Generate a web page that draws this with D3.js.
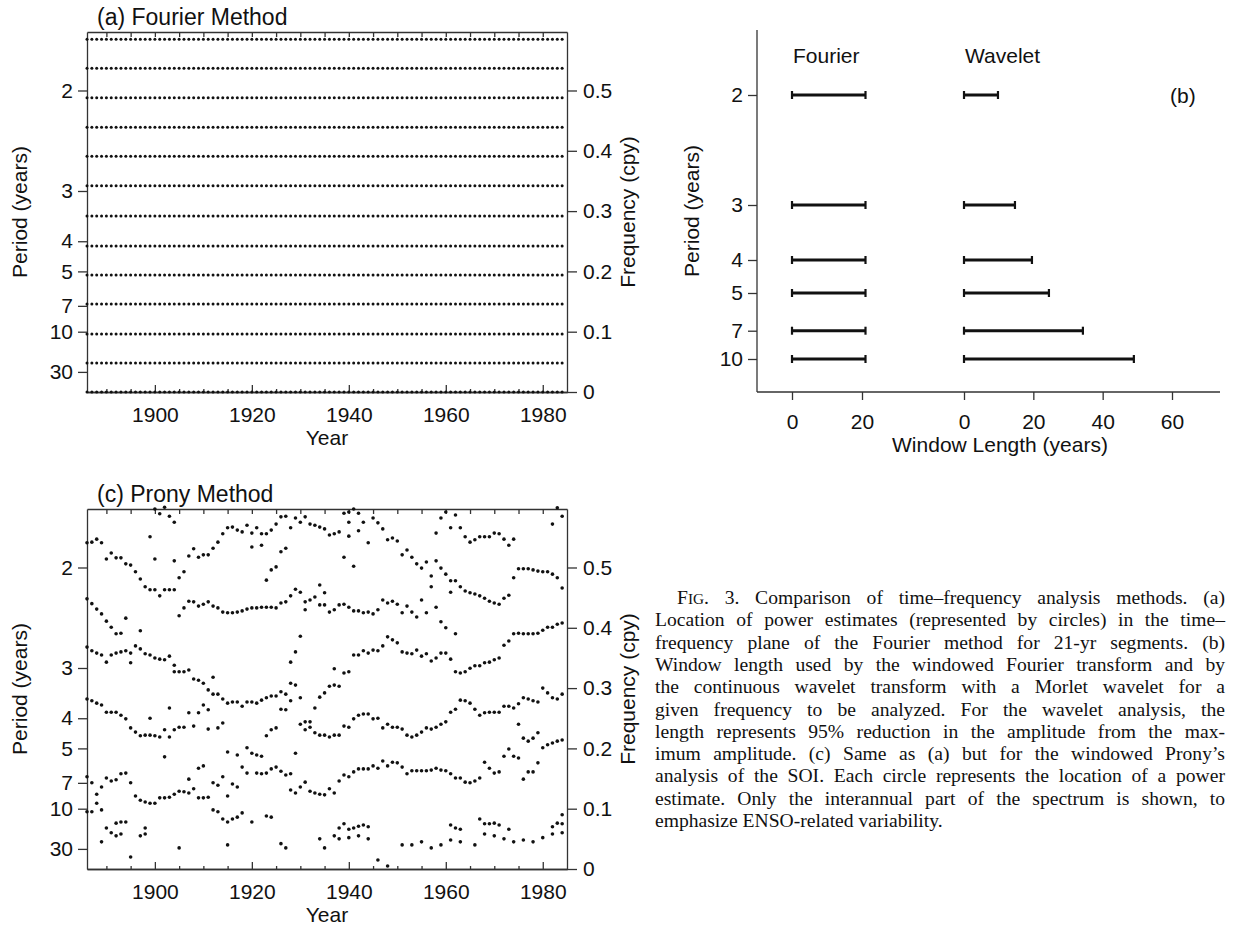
<!DOCTYPE html>
<html>
<head>
<meta charset="utf-8">
<script src="https://cdn.jsdelivr.net/npm/d3@7"></script>
<style>
  body { margin: 0; background: #fff; }
  svg { display: block; }
</style>
</head>
<body>
<script>
// ---- data ----
const years = d3.range(1886, 1985)
const fourierFreqs = [0, 0.048, 0.096, 0.146, 0.194, 0.242, 0.292, 0.342, 0.391, 0.439, 0.488, 0.537, 0.585]
const periodTicks = [2, 3, 4, 5, 7, 10, 30]
const freqTicks = [0, 0.1, 0.2, 0.3, 0.4, 0.5]
const yearTicks = [1900, 1920, 1940, 1960, 1980]
const yearMinor = d3.range(1890, 1985, 5)

const windowPeriods = [2, 3, 4, 5, 7, 10]
const fourierWindow = [21, 21, 21, 21, 21, 21]
const waveletWindow = [9.8, 14.7, 19.6, 24.5, 34.3, 49]
const fourierLenTicks = [0, 20]
const waveletLenTicks = [0, 20, 40, 60]

// Prony estimates, [year, frequency (cpy)]
const pronyTop = [[1886,.541],[1887,.542],[1888,.547],[1889,.541],[1890,.514],[1891,.524],[1892,.516],[1893,.516],
  [1894,.506],[1895,.504],[1896,.493],[1897,.481],[1898,.468],[1899,.463],[1900,.463],[1901,.453],[1902,.463],
  [1903,.463],[1904,.463],[1905,.483],[1906,.493],[1907,.519],[1908,.531],[1909,.517],[1910,.521],[1911,.521],
  [1912,.532],[1913,.542],[1914,.556],[1915,.566],[1916,.567],[1917,.562],[1918,.559],[1919,.570],[1920,.557],
  [1921,.566],[1922,.556],[1923,.556],[1924,.562],[1925,.572],[1926,.584],[1927,.585],[1928,.566],[1929,.582],
  [1930,.575],[1931,.584],[1932,.572],[1933,.570],[1934,.567],[1935,.564],[1936,.554],[1937,.556],[1938,.559],
  [1899,.551],[1900,.514],[1904,.511],[1900,.597],[1901,.589],[1902,.600],[1903,.585],[1904,.575],
  [1920,.534],[1922,.537],[1923,.479],[1924,.496],[1925,.501],[1926,.526],[1927,.532],
  [1939,.590],[1940,.592],[1941,.597],[1942,.590],[1940,.575],[1940,.552],[1942,.561],[1943,.575],[1944,.541],
  [1945,.582],[1946,.574],[1947,.564],[1948,.546],[1949,.549],[1950,.544],[1939,.517],[1941,.502],
  [1951,.521],[1952,.529],[1953,.517],[1954,.506],[1955,.499],[1956,.509],[1957,.486],[1958,.511],[1959,.499],
  [1960,.489],[1961,.478],[1962,.478],[1963,.468],[1964,.461],[1965,.458],[1966,.456],[1967,.453],[1968,.449],
  [1969,.444],[1970,.441],[1971,.439],[1972,.449],[1973,.454],[1957,.468],[1961,.459],
  [1958,.557],[1959,.582],[1960,.592],[1961,.566],[1962,.587],[1963,.566],[1964,.551],[1965,.542],[1966,.546],
  [1967,.551],[1968,.551],[1969,.551],[1970,.557],[1971,.556],[1972,.547],[1973,.537],[1974,.547],
  [1974,.483],[1975,.498],[1976,.498],[1977,.498],[1978,.496],[1979,.494],[1980,.493],[1981,.493],[1982,.489],
  [1983,.483],[1984,.466],[1982,.572],[1983,.599],[1984,.585]]

const pronyBand2 = [[1886,.448],[1887,.440],[1888,.431],[1889,.423],[1890,.411],[1891,.401],[1892,.390],[1893,.391],
  [1894,.416],[1897,.395],[1905,.420],[1906,.433],[1907,.444],[1908,.443],[1909,.436],[1910,.439],[1911,.443],
  [1912,.436],[1913,.433],[1914,.426],[1915,.425],[1916,.425],[1917,.426],[1918,.428],[1919,.431],[1920,.433],
  [1921,.433],[1922,.434],[1923,.434],[1924,.434],[1925,.433],[1926,.441],[1927,.443],[1928,.453],[1929,.464],
  [1930,.459],[1931,.443],[1931,.430],[1932,.446],[1933,.451],[1934,.471],[1934,.438],[1935,.458],[1935,.438],
  [1936,.426],[1937,.430],[1938,.438],[1939,.439],[1940,.434],[1941,.428],[1942,.428],[1943,.425],[1944,.426],
  [1945,.423],[1946,.430],[1947,.446],[1948,.441],[1949,.444],[1950,.439],[1951,.425],[1952,.436],[1953,.426],
  [1954,.418],[1955,.446],[1956,.425],[1958,.434],[1959,.410],[1960,.400],[1962,.390]]

const pronyBand3 = [[1886,.368],[1887,.362],[1888,.358],[1889,.355],[1890,.343],[1891,.355],[1892,.358],[1893,.360],
  [1894,.362],[1895,.358],[1895,.342],[1896,.370],[1897,.365],[1898,.357],[1899,.355],[1900,.350],[1901,.348],
  [1902,.347],[1903,.353],[1904,.338],[1904,.327],[1905,.327],[1906,.327],[1907,.330],[1908,.315],[1909,.313],
  [1910,.308],[1912,.318],[1911,.297],[1912,.290],[1913,.290],[1914,.282],[1915,.275],[1916,.277],[1917,.277],
  [1918,.270],[1919,.277],[1920,.277],[1921,.275],[1922,.280],[1923,.284],[1924,.287],[1925,.287],[1926,.294],
  [1927,.290],[1928,.308],[1929,.305],[1928,.343],[1929,.360],[1930,.386],[1930,.284],
  [1933,.267],[1934,.285],[1935,.292],[1936,.303],[1937,.305],[1938,.303],[1937,.332],[1939,.325],[1940,.327],
  [1941,.355],[1942,.355],[1943,.362],[1944,.358],[1945,.363],[1946,.362],[1947,.370],[1948,.385],[1949,.380],
  [1950,.375],[1951,.360],[1952,.358],[1953,.357],[1954,.363],[1955,.353],[1956,.357],[1957,.345],[1958,.350],
  [1959,.358],[1960,.358],[1961,.348],[1962,.327],[1963,.325],[1964,.327],[1965,.333],[1966,.337],[1967,.337],
  [1968,.342],[1969,.343],[1970,.347],[1971,.350],[1972,.371],[1973,.378],[1974,.390],[1975,.391],[1976,.390],
  [1977,.390],[1978,.390],[1979,.391],[1980,.396],[1981,.401],[1982,.401],[1983,.406],[1984,.408]]

const pronyBand4 = [[1886,.282],[1887,.279],[1888,.275],[1889,.272],[1890,.260],[1891,.260],[1892,.260],[1893,.255],
  [1894,.249],[1895,.234],[1896,.227],[1897,.221],[1898,.222],[1899,.222],[1900,.221],[1901,.219],[1902,.231],
  [1903,.219],[1904,.231],[1905,.235],[1906,.235],[1907,.259],[1908,.237],[1909,.259],[1910,.272],[1911,.264],
  [1911,.232],[1913,.234],[1914,.242],[1899,.250],[1903,.267],[1902,.186],
  [1923,.221],[1924,.231],[1925,.234],[1926,.265],[1927,.264],[1928,.279],
  [1930,.240],[1931,.231],[1932,.235],[1932,.244],[1931,.244],[1933,.226],[1934,.222],[1935,.222],[1936,.219],
  [1937,.222],[1938,.222],[1939,.237],[1940,.235],[1941,.249],[1942,.255],[1943,.257],[1944,.257],[1945,.249],
  [1946,.250],[1947,.234],[1948,.240],[1949,.235],[1950,.235],[1951,.232],[1952,.222],[1953,.219],[1954,.222],
  [1955,.227],[1956,.234],[1957,.232],[1958,.235],[1959,.240],[1960,.244],[1961,.260],[1962,.265],[1963,.280],
  [1964,.279],[1965,.275],[1966,.265],[1967,.255],[1968,.259],[1969,.260],[1970,.260],[1971,.260],[1972,.270],
  [1973,.270],[1974,.267],[1975,.274],[1976,.284],[1977,.282],[1978,.279],[1979,.277],[1980,.300],[1981,.292],
  [1982,.284],[1983,.282],[1984,.290]]

const pronyBand5 = [[1886,.153],[1887,.143],[1888,.124],[1889,.136],[1890,.151],[1891,.146],[1892,.148],[1893,.158],
  [1894,.159],[1895,.143],[1896,.121],[1897,.114],[1898,.111],[1899,.109],[1900,.109],[1901,.118],[1902,.118],
  [1903,.119],[1904,.124],[1905,.129],[1906,.128],[1907,.126],[1907,.149],[1908,.133],[1909,.118],[1910,.118],
  [1911,.119],[1909,.167],[1910,.171],[1912,.143],[1913,.139],[1914,.153],[1915,.121],[1915,.194],[1916,.141],
  [1917,.136],[1917,.189],[1918,.169],[1919,.201],[1919,.159],[1920,.192],[1921,.189],[1922,.187],[1921,.159],
  [1922,.158],[1923,.159],[1924,.166],[1925,.169],[1926,.162],[1927,.156],[1928,.158],[1929,.192],[1928,.131],
  [1929,.126],[1930,.136],[1931,.144],[1932,.129],[1933,.126],[1934,.124],[1935,.123],[1936,.133],[1937,.126],
  [1938,.146],[1939,.156],[1940,.153],[1941,.161],[1942,.166],[1943,.166],[1944,.166],[1945,.171],[1946,.167],
  [1947,.179],[1948,.171],[1949,.177],[1950,.176],[1951,.169],[1952,.158],[1953,.163],[1954,.163],[1955,.163],
  [1956,.163],[1957,.164],[1958,.167],[1959,.164],[1960,.163],[1961,.158],[1962,.151],[1963,.151],[1964,.144],
  [1965,.143],[1966,.146],[1967,.151],[1968,.177],[1969,.167],[1970,.159],[1971,.161],[1972,.187],[1973,.199],
  [1974,.187],[1975,.184],[1975,.240],[1976,.149],[1976,.217],[1977,.212],[1978,.217],[1979,.226],[1979,.176],
  [1978,.161],[1977,.161],[1980,.201],[1981,.206],[1982,.209],[1983,.212],[1984,.214]]

const pronyBand6 = [[1886,.095],[1887,.095],[1888,.109],[1889,.098],[1890,.068],[1892,.076],[1893,.078],[1894,.078],
  [1898,.068],[1912,.098],[1913,.095],[1914,.083],[1915,.078],[1916,.083],[1917,.086],[1918,.093],[1920,.078],
  [1923,.088],[1924,.086],[1938,.068],[1939,.075],[1940,.066],[1941,.068],[1942,.071],[1943,.073],[1944,.070],
  [1961,.073],[1962,.068],[1963,.066],[1967,.083],[1968,.075],[1969,.075],[1970,.076],[1971,.073],[1973,.066],
  [1982,.070],[1983,.076],[1984,.075],[1984,.090]]

const pronyBand7 = [[1889,.045],[1891,.060],[1892,.055],[1893,.058],[1895,.020],[1897,.055],[1898,.058],[1905,.035],
  [1915,.040],[1926,.042],[1927,.035],[1934,.050],[1935,.035],[1937,.055],[1938,.050],[1940,.052],[1942,.055],
  [1944,.050],[1946,.015],[1948,.005],[1951,.040],[1953,.040],[1955,.045],[1957,.035],[1959,.040],[1961,.048],
  [1963,.045],[1966,.040],[1968,.058],[1970,.055],[1972,.050],[1974,.045],[1976,.048],[1978,.045],[1980,.052],
  [1982,.058],[1984,.060]]

const captionLines = [
  "Comparison of time\u2013frequency analysis methods. (a)",
  "Location of power estimates (represented by circles) in the time\u2013",
  "frequency plane of the Fourier method for 21-yr segments. (b)",
  "Window length used by the windowed Fourier transform and by",
  "the continuous wavelet transform with a Morlet wavelet for a",
  "given frequency to be analyzed. For the wavelet analysis, the",
  "length represents 95% reduction in the amplitude from the max-",
  "imum amplitude. (c) Same as (a) but for the windowed Prony\u2019s",
  "analysis of the SOI. Each circle represents the location of a power",
  "estimate. Only the interannual part of the spectrum is shown, to",
  "emphasize ENSO-related variability."
]

// ---- drawing ----
const W = 1243, H = 926
const SANS = "'Liberation Sans', Arial, Helvetica, sans-serif"
const SERIF = "'Liberation Serif', 'Times New Roman', serif"
const INK = "#111"
const AXIS = "#333"

const svg = d3.select("body").append("svg").attr("width", W).attr("height", H)

function styleAxis(g, fs) {
  g.attr("font-family", SANS).attr("font-size", fs || 21)
  g.selectAll("path, line").attr("stroke", AXIS).attr("stroke-width", 1.3)
  g.selectAll("text").attr("fill", INK)
}

function timePanel(top, title, pointSets, r) {
  const left = 87, right = 567, bottom = top + 360
  const x = d3.scaleLinear().domain([1886, 1985]).range([left, right])
  const y = d3.scaleLinear().domain([0, 0.597]).range([bottom, top])
  const g = svg.append("g")

  // frame and ticks
  g.append("g").attr("transform", `translate(0,${top})`)
    .call(d3.axisTop(x).tickValues(yearMinor).tickSize(-5).tickSizeOuter(0).tickFormat(""))
    .call(styleAxis)
  g.append("g").attr("transform", `translate(0,${bottom})`)
    .call(d3.axisBottom(x).tickValues(yearMinor.filter(v => !yearTicks.includes(v))).tickSize(-3).tickSizeOuter(0).tickFormat(""))
    .call(styleAxis)
  g.append("g").attr("transform", `translate(0,${bottom})`)
    .call(d3.axisBottom(x).tickValues(yearTicks).tickSize(-7).tickSizeOuter(0).tickPadding(15).tickFormat(d3.format("d")))
    .call(styleAxis)
  g.append("g").attr("transform", `translate(${left},0)`)
    .call(d3.axisLeft(y).tickValues(periodTicks.map(p => 1 / p)).tickSize(9).tickSizeOuter(0).tickPadding(5)
      .tickFormat(f => d3.format("d")(Math.round(1 / f))))
    .call(styleAxis)
  g.append("g").attr("transform", `translate(${right},0)`)
    .call(d3.axisRight(y).tickValues(freqTicks).tickSize(10).tickSizeOuter(0).tickPadding(6).tickFormat(d3.format(".1~f")))
    .call(styleAxis)

  // labels
  g.append("text").attr("x", 97).attr("y", top - 7).attr("font-family", SANS).attr("font-size", 23).attr("fill", INK).text(title)
  g.append("text").attr("x", (left + right) / 2).attr("y", bottom + 53).attr("text-anchor", "middle")
    .attr("font-family", SANS).attr("font-size", 21).attr("fill", INK).text("Year")
  g.append("text").attr("transform", `translate(27,${(top + bottom) / 2}) rotate(-90)`).attr("text-anchor", "middle")
    .attr("font-family", SANS).attr("font-size", 21).attr("fill", INK).text("Period (years)")
  g.append("text").attr("transform", `translate(635,${(top + bottom) / 2}) rotate(-90)`).attr("text-anchor", "middle")
    .attr("font-family", SANS).attr("font-size", 21).attr("fill", INK).text("Frequency (cpy)")

  // dots
  pointSets.forEach(pts => {
    g.append("g").selectAll("circle").data(pts).join("circle")
      .attr("cx", d => x(d[0])).attr("cy", d => y(d[1])).attr("r", r).attr("fill", INK)
  })
}

// (a) Fourier grid of estimates
const fourierGrid = fourierFreqs.flatMap(f => years.map(yr => [yr, f]))
timePanel(32, "(a) Fourier Method", [fourierGrid], 1.5)

// (c) Prony estimates
timePanel(509, "(c) Prony Method",
  [pronyTop, pronyBand2, pronyBand3, pronyBand4, pronyBand5, pronyBand6, pronyBand7], 1.8)

// (b) window lengths
;(function () {
  const left = 757, right = 1220, top = 30, bottom = 392
  const y = d3.scaleLinear().domain([0.05, 0.6]).range([bottom, 29])
  const xF = d3.scaleLinear().domain([0, 20]).range([792, 862])
  const xW = d3.scaleLinear().domain([0, 60]).range([964, 1172])
  const g = svg.append("g")

  g.append("g").attr("transform", `translate(${left},0)`)
    .call(d3.axisLeft(y).tickValues(windowPeriods.map(p => 1 / p)).tickSize(9).tickSizeOuter(0).tickPadding(5)
      .tickFormat(f => d3.format("d")(Math.round(1 / f))))
    .call(styleAxis)
  g.select("path.domain").attr("d", `M0,${top}V${bottom}`)
  g.append("line").attr("x1", left).attr("x2", right).attr("y1", bottom).attr("y2", bottom)
    .attr("stroke", AXIS).attr("stroke-width", 1.3)
  ;[[xF, fourierLenTicks], [xW, waveletLenTicks]].forEach(([sc, tv]) => {
    const a = g.append("g").attr("transform", `translate(0,${bottom})`)
      .call(d3.axisBottom(sc).tickValues(tv).tickSize(8).tickPadding(14).tickFormat(d3.format("d")))
      .call(styleAxis)
    a.select("path.domain").remove()
  })

  const bars = [
    { sc: xF, vals: fourierWindow, name: "Fourier" },
    { sc: xW, vals: waveletWindow, name: "Wavelet" }
  ]
  bars.forEach(b => {
    const rows = windowPeriods.map((p, i) => ({ f: 1 / p, len: b.vals[i] }))
    const bg = g.append("g")
    bg.selectAll("line.bar").data(rows).join("line").attr("class", "bar")
      .attr("x1", b.sc(0)).attr("x2", d => b.sc(d.len))
      .attr("y1", d => y(d.f)).attr("y2", d => y(d.f))
      .attr("stroke", INK).attr("stroke-width", 3)
    bg.selectAll("line.cap0").data(rows).join("line").attr("class", "cap0")
      .attr("x1", b.sc(0)).attr("x2", b.sc(0))
      .attr("y1", d => y(d.f) - 4).attr("y2", d => y(d.f) + 4)
      .attr("stroke", INK).attr("stroke-width", 2.2)
    bg.selectAll("line.cap1").data(rows).join("line").attr("class", "cap1")
      .attr("x1", d => b.sc(d.len)).attr("x2", d => b.sc(d.len))
      .attr("y1", d => y(d.f) - 4).attr("y2", d => y(d.f) + 4)
      .attr("stroke", INK).attr("stroke-width", 2.2)
    g.append("text").attr("x", b.sc(0) + 1).attr("y", 63).attr("font-family", SANS).attr("font-size", 21)
      .attr("fill", INK).text(b.name)
  })

  g.append("text").attr("x", 1170).attr("y", 103).attr("font-family", SANS).attr("font-size", 21).attr("fill", INK).text("(b)")
  g.append("text").attr("x", 1000).attr("y", 452).attr("text-anchor", "middle").attr("font-family", SANS)
    .attr("font-size", 21).attr("fill", INK).text("Window Length (years)")
  g.append("text").attr("transform", `translate(699,${(top + bottom) / 2}) rotate(-90)`).attr("text-anchor", "middle")
    .attr("font-family", SANS).attr("font-size", 21).attr("fill", INK).text("Period (years)")
})()

// caption, justified lines
;(function () {
  const left = 655, right = 1225, base = 604, lh = 22.3, fs = 19.6
  const g = svg.append("g").attr("font-family", SERIF).attr("font-size", fs).attr("fill", INK)
  captionLines.forEach((line, i) => {
    const x0 = i === 0 ? left + 22 : left
    const t = g.append("text").attr("x", x0).attr("y", base + i * lh)
    if (i === 0) {
      t.append("tspan").text("F")
      t.append("tspan").attr("font-size", fs * 0.78).text("IG")
      t.append("tspan").text(". 3. " + line)
    } else {
      t.text(line)
    }
    if (i < captionLines.length - 1) {
      const len = t.node().getComputedTextLength()
      const spaces = (i === 0 ? line.split(" ").length + 1 : line.split(" ").length - 1)
      t.attr("word-spacing", ((right - x0) - len) / spaces)
    }
  })
})()
</script>
</body>
</html>
